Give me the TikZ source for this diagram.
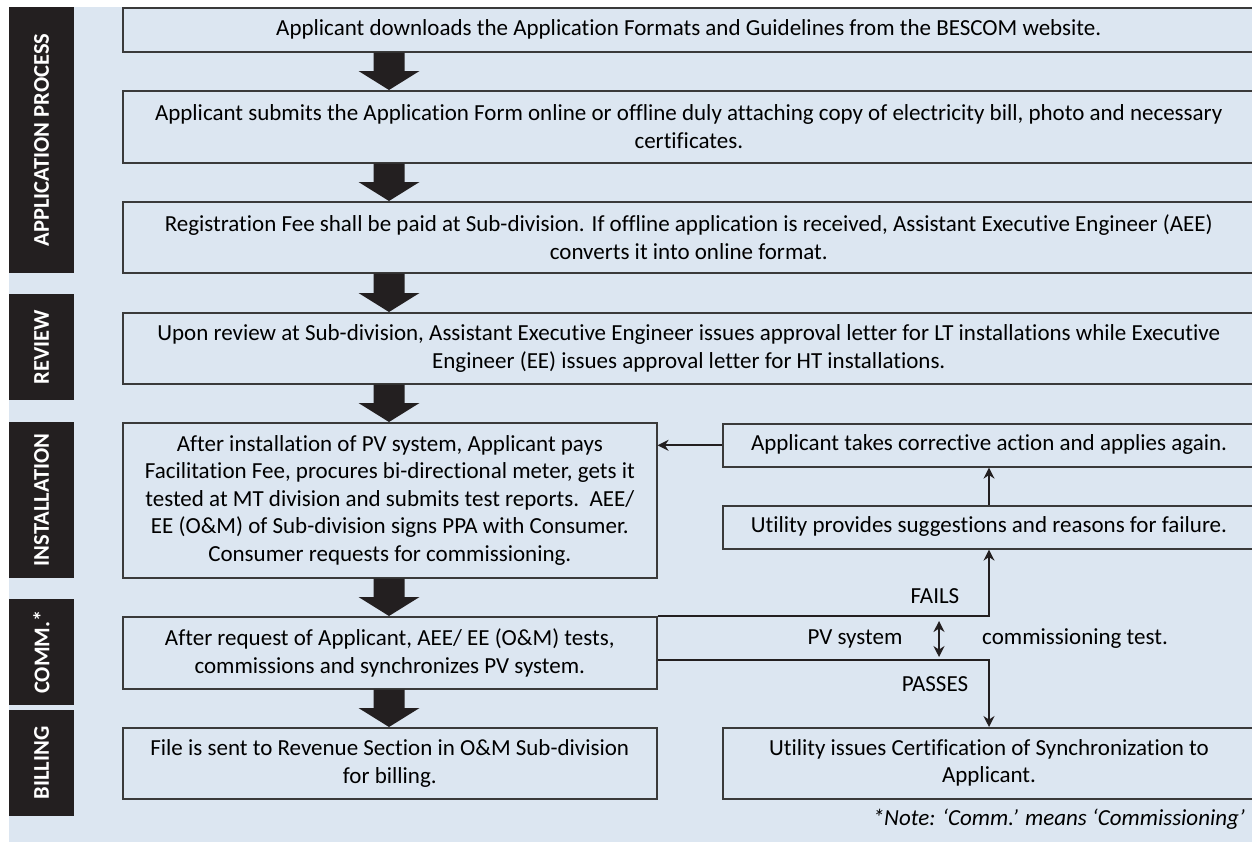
\documentclass[tikz,border=0pt]{standalone}
\usepackage{fontspec}
\setmainfont{Carlito}[Ligatures={NoCommon}]
\usetikzlibrary{arrows.meta,calc}
\definecolor{bgblue}{HTML}{DCE6F1}
\definecolor{labblack}{HTML}{231F20}
\definecolor{boxline}{HTML}{3A3A3A}
\definecolor{arrowblack}{HTML}{231F20}
\newcommand\BlkArrow[2]{\fill[arrowblack] let \p1=(#1), \p2=(#2) in
  (\x1-15.5pt,\y1) -- (\x1+15.5pt,\y1) -- (\x1+15.5pt,\y2+19pt) -- (\x1+30.5pt,\y2+19pt)
  -- (\x1,\y2) -- (\x1-30.5pt,\y2+19pt) -- (\x1-15.5pt,\y2+19pt) -- cycle;}
\begin{document}
\begin{tikzpicture}[x=1pt,y=-1pt,
  box/.style={draw=boxline, line width=1.6pt, fill=bgblue, align=center, anchor=north west,
    inner sep=0pt, font=\fontsize{23}{27.5}\selectfont},
  lab/.style={fill=labblack, text=white, rotate=90, minimum height=65pt, inner sep=0pt,
    font=\bfseries\fontsize{22.5}{26}\selectfont},
  txt/.style={font=\fontsize{23}{27}\selectfont, inner sep=0pt, align=center},
  thin/.style={draw=labblack, line width=1.7pt},
  thinarrow/.style={-{Stealth[length=11pt,width=11pt]}}
]
\useasboundingbox (0,0) rectangle (1252,841);
\clip (0,0) rectangle (1252,841);
\fill[bgblue] (9,7) rectangle (1260,850);
% side labels
\node[lab, minimum width=266pt] (lapp) at (41.5,140) {APPLICATION PROCESS};
\node[lab, minimum width=106pt] (lrev) at (41.5,347) {REVIEW};
\node[lab, minimum width=156pt] (lins) at (41.5,500) {INSTALLATION};
\node[lab, minimum width=106pt] (lcom) at (41.5,652) {COMM.*};
\node[lab, minimum width=106pt] (lbil) at (41.5,763) {BILLING};
% main boxes
\node[box, minimum width=1132pt, minimum height=44pt] (b1) at (122,7)
  {Applicant downloads the Application Formats and Guidelines from the BESCOM website.};
\node[box, minimum width=1132pt, minimum height=72pt] (b2) at (122,90)
  {Applicant submits the Application Form online or offline duly attaching copy of electricity bill, photo and necessary\\certificates.};
\node[box, minimum width=1132pt, minimum height=71pt] (b3) at (122,201)
  {Registration Fee shall be paid at Sub-division. If offline application is received, Assistant Executive Engineer (AEE)\\converts it into online format.};
\node[box, minimum width=1132pt, minimum height=71pt] (b4) at (122,312)
  {Upon review at Sub-division, Assistant Executive Engineer issues approval letter for LT installations while Executive\\Engineer (EE) issues approval letter for HT installations.};
\node[box, minimum width=534pt, minimum height=155pt] (b5) at (122,422)
  {After installation of PV system, Applicant pays\\Facilitation Fee, procures bi-directional meter, gets it\\tested at MT division and submits test reports.\ \ AEE/\\EE (O\&M) of Sub-division signs PPA with Consumer.\\Consumer requests for commissioning.};
\node[box, minimum width=534pt, minimum height=72pt] (b6) at (122,616)
  {After request of Applicant, AEE/ EE (O\&M) tests,\\commissions and synchronizes PV system.};
\node[box, minimum width=534pt, minimum height=71pt] (b7) at (122,727)
  {File is sent to Revenue Section in O\&M Sub-division\\for billing.};
% right boxes
\node[box, minimum width=600pt, minimum height=43pt] (r1) at (722,423) {};
\node[box, minimum width=600pt, minimum height=43pt] (r2) at (722,505) {};
\node[box, minimum width=600pt, minimum height=71pt] (r3) at (722,727) {};
\node[txt] (r1t) at (989,444.5) {Applicant takes corrective action and applies again.};
\node[txt] (r2t) at (989,526.5) {Utility provides suggestions and reasons for failure.};
\node[txt] (r3t) at (989,762.5) {Utility issues Certification of Synchronization to\\Applicant.};
% block arrows
\coordinate (ax) at (389,0);
\BlkArrow{b1.south -| ax}{b2.north -| ax}
\BlkArrow{b2.south -| ax}{b3.north -| ax}
\BlkArrow{b3.south -| ax}{b4.north -| ax}
\BlkArrow{b4.south -| ax}{b5.north -| ax}
\BlkArrow{b5.south -| ax}{b6.north -| ax}
\BlkArrow{b6.south -| ax}{b7.north -| ax}
% thin connectors
\draw[thin, thinarrow] (r1.west) -- (r1.west -| b5.east);
\draw[thin, thinarrow] (r2.north -| r1t) -- (r1.south -| r1t);
\draw[thin, thinarrow] (b6.north east) -| (r2.south -| r1t);
\coordinate (passstart) at ($(b6.north east)+(0,44)$);
\draw[thin, thinarrow] (passstart) -| (r3.north -| r1t);
\coordinate (dtop) at (939,621);
\coordinate (dbot) at (939,657);
\draw[thin, {Stealth[length=11pt,width=11pt]}-{Stealth[length=11pt,width=11pt]}] (dtop) -- (dbot);
% labels
\node[txt] (fails) at (935,596) {FAILS};
\node[txt] (passes) at (935,684) {PASSES};
\node[txt] (pvsys) at (855,639) {PV system};
\node[txt, anchor=west] (ctest) at (982,639) {commissioning test.};
\node[txt, font=\itshape\fontsize{23}{27}\selectfont, anchor=base east] (note) at (1245,825)
  {*Note: ‘Comm.’ means ‘Commissioning’};
\end{tikzpicture}
\end{document}
